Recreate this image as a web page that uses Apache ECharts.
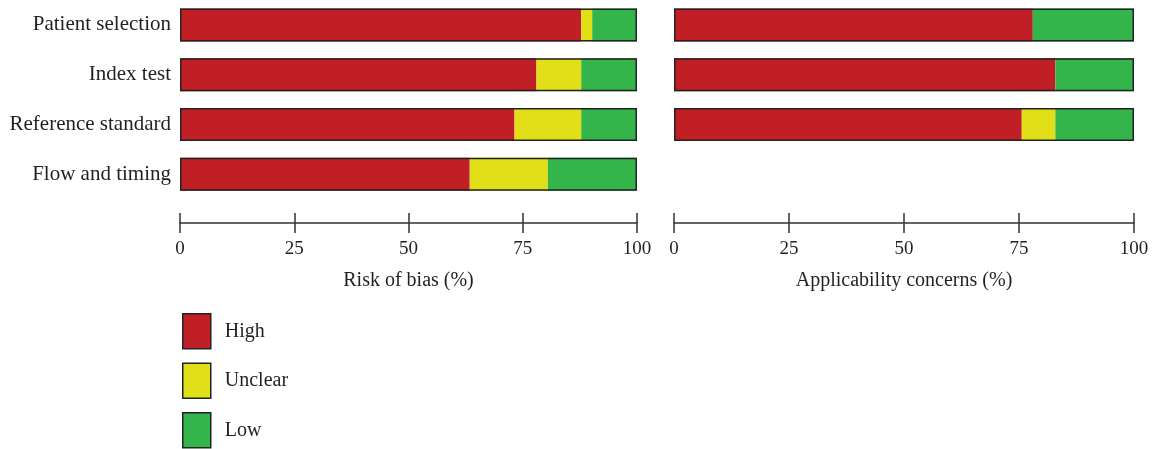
<!DOCTYPE html>
<html>
<head>
<meta charset="utf-8">
<title>Risk of bias and applicability concerns</title>
<script src="https://cdn.jsdelivr.net/npm/echarts@6/dist/echarts.min.js"></script>
<style>
  html, body { margin: 0; padding: 0; background: #fff; }
  #chart { width: 1155px; height: 449px; }
</style>
</head>
<body>
<div id="chart"></div>
<script>
// domains (QUADAS-2)
let categories = ['Patient selection', 'Index test', 'Reference standard', 'Flow and timing'];
let legendNames = ['High', 'Unclear', 'Low'];
let xTicks = [0, 25, 50, 75, 100];

// risk of bias, percent of studies
let biasHigh = [87.8, 78.0, 73.2, 63.4];
let biasUnclear = [2.4, 9.8, 14.6, 17.1];
let biasLow = [9.8, 12.2, 12.2, 19.5];

// applicability concerns, percent of studies (no flow and timing row)
let applHigh = [78.0, 82.9, 75.6, null];
let applUnclear = [0, 0, 7.3, null];
let applLow = [22.0, 17.1, 17.1, null];

let colors = ['#c01f26', '#e1df18', '#33b54b'];
let ink = '#231f20';
let font = '"Liberation Serif", "DejaVu Serif", serif';

// outline = full bar, only where the row has data
function outlineData(high) {
  return high.map(function(v) { return v == null ? null : 100; });
}

function valueAxis(gridIndex, name) {
  return {
    type: 'value', gridIndex: gridIndex, position: 'bottom', offset: 24,
    min: 0, max: 100, interval: 25,
    name: name, nameLocation: 'middle', nameGap: 48,
    nameTextStyle: { color: ink, fontFamily: font, fontSize: 20 },
    axisLine: { show: true, lineStyle: { color: '#333', width: 1.5 } },
    axisTick: { show: true, inside: false, length: 10, lineStyle: { color: '#333', width: 1.5 } },
    axisLabel: { color: ink, fontFamily: font, fontSize: 19, margin: 17,
      formatter: function(v) { return xTicks.indexOf(v) >= 0 ? String(v) : ''; } },
    splitLine: { show: false }
  };
}

// second axis in the same place, only for the upward half of each tick
function tickUpAxis(gridIndex) {
  return {
    type: 'value', gridIndex: gridIndex, position: 'bottom', offset: 24,
    min: 0, max: 100, interval: 25,
    axisLine: { show: false },
    axisTick: { show: true, inside: true, length: 10, lineStyle: { color: '#333', width: 1.5 } },
    axisLabel: { show: false },
    splitLine: { show: false }
  };
}

function categoryAxis(gridIndex, showLabels) {
  return {
    type: 'category', gridIndex: gridIndex, data: categories, inverse: true,
    axisLine: { show: false }, axisTick: { show: false },
    axisLabel: { show: showLabels, color: ink, fontFamily: font, fontSize: 21, margin: 9 }
  };
}

function segment(name, data, color, xIdx, yIdx, stack) {
  return {
    name: name, type: 'bar', stack: stack, data: data,
    xAxisIndex: xIdx, yAxisIndex: yIdx, barWidth: 33,
    itemStyle: { color: color }, silent: true
  };
}

function outline(data, xIdx, yIdx) {
  return {
    name: 'outline', type: 'bar', data: data,
    xAxisIndex: xIdx, yAxisIndex: yIdx, barWidth: 33, barGap: '-100%', z: 3,
    itemStyle: { color: 'rgba(0,0,0,0)', borderColor: '#222', borderWidth: 1.5 },
    silent: true
  };
}

let chart = echarts.init(document.getElementById('chart'), null, { renderer: 'canvas' });

let option = {
  backgroundColor: '#fff',
  animation: false,
  color: colors,
  grid: [
    { left: 180, width: 457, top: -1, height: 200 },
    { left: 674, width: 460, top: -1, height: 200 }
  ],
  xAxis: [
    valueAxis(0, 'Risk of bias (%)'), tickUpAxis(0),
    valueAxis(1, 'Applicability concerns (%)'), tickUpAxis(1)
  ],
  yAxis: [categoryAxis(0, true), categoryAxis(1, false)],
  legend: {
    data: legendNames, orient: 'vertical', left: 182, top: 313, height: 140,
    padding: 0,
    itemWidth: 28, itemHeight: 35, itemGap: 13, icon: 'rect',
    itemStyle: { borderColor: '#222', borderWidth: 1.5 },
    textStyle: { color: ink, fontFamily: font, fontSize: 20, padding: [0, 0, 0, 9] },
    selectedMode: false
  },
  series: [
    segment('High', biasHigh, colors[0], 0, 0, 'bias'),
    segment('Unclear', biasUnclear, colors[1], 0, 0, 'bias'),
    segment('Low', biasLow, colors[2], 0, 0, 'bias'),
    outline(outlineData(biasHigh), 0, 0),
    segment('High', applHigh, colors[0], 2, 1, 'appl'),
    segment('Unclear', applUnclear, colors[1], 2, 1, 'appl'),
    segment('Low', applLow, colors[2], 2, 1, 'appl'),
    outline(outlineData(applHigh), 2, 1)
  ]
};

chart.setOption(option);
</script>
</body>
</html>
